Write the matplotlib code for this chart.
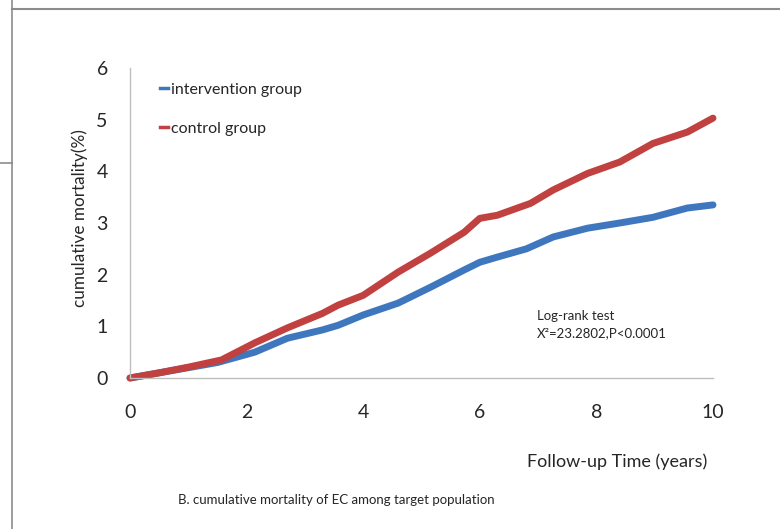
import matplotlib
matplotlib.use("Agg")
import matplotlib.pyplot as plt
from matplotlib.lines import Line2D

plt.rcParams['font.family'] = ['Lato', 'DejaVu Sans']

# values
years_intervention = [0, 0.5, 1.0, 1.5, 2.14, 2.7, 3.3, 3.57, 4.0, 4.6, 5.16, 5.73,
                      6.0, 6.3, 6.8, 7.26, 7.85, 8.4, 8.97, 9.56, 10.0]
mort_intervention = [0, 0.1, 0.2, 0.3, 0.5, 0.77, 0.93, 1.02, 1.22, 1.45, 1.76, 2.09,
                     2.24, 2.34, 2.5, 2.73, 2.9, 3.0, 3.11, 3.29, 3.35]

years_control = [0, 0.5, 1.0, 1.57, 2.14, 2.7, 3.3, 3.57, 4.0, 4.6, 5.16, 5.73,
                 6.0, 6.3, 6.87, 7.26, 7.85, 8.4, 8.97, 9.56, 10.0]
mort_control = [0, 0.1, 0.21, 0.35, 0.68, 0.97, 1.25, 1.41, 1.6, 2.05, 2.42, 2.82,
                3.09, 3.15, 3.38, 3.64, 3.96, 4.18, 4.54, 4.76, 5.03]

x_ticks = [0, 2, 4, 6, 8, 10]
y_ticks = [0, 1, 2, 3, 4, 5, 6]

blue = "#3f77bf"
red = "#c0413f"
text_col = "#262626"

fig = plt.figure(figsize=(7.8, 5.29), dpi=100)
ax = fig.add_axes([130 / 780, 1 - 378 / 529, (713 - 130) / 780, (378 - 68) / 529])

ax.plot(years_intervention, mort_intervention, color=blue, lw=5,
        solid_joinstyle="round", solid_capstyle="round", clip_on=False)
ax.plot(years_control, mort_control, color=red, lw=5,
        solid_joinstyle="round", solid_capstyle="round", clip_on=False)

ax.set_xlim(0, 10)
ax.set_ylim(0, 6)
ax.set_xticks(x_ticks)
ax.set_yticks(y_ticks)
ax.tick_params(length=0, labelsize=14, labelcolor=text_col)
ax.tick_params(axis="x", pad=19)
ax.tick_params(axis="y", pad=16)
for side in ["top", "right"]:
    ax.spines[side].set_visible(False)
for side in ["left", "bottom"]:
    ax.spines[side].set_color("#bfbfbf")
    ax.spines[side].set_linewidth(1.0)

# legend
handles = [Line2D([0], [0], color=blue, lw=2.5),
           Line2D([0], [0], color=red, lw=2.5)]
fig.legend(handles, ["intervention group", "control group"],
           loc="upper left", bbox_to_anchor=(146 / 780, 1 - 68 / 529),
           frameon=False, fontsize=11.5, handlelength=0.45, handletextpad=0.2,
           labelspacing=1.56, labelcolor=text_col)

# labels and annotations
fig.text(80 / 780, 1 - 218 / 529, "cumulative mortality(%)", rotation=90,
         ha="center", va="center", fontsize=12.3, color=text_col)
fig.text(707 / 780, 1 - 462 / 529, "Follow-up Time (years)",
         ha="right", va="center", fontsize=13, color=text_col)
fig.text(178 / 780, 1 - 500 / 529, "B. cumulative mortality of EC among target population",
         ha="left", va="center", fontsize=9.5, color=text_col)
fig.text(537 / 780, 1 - 316 / 529, "Log-rank test",
         ha="left", va="center", fontsize=9.5, color=text_col)
fig.text(537 / 780, 1 - 333 / 529, "X\u00b2=23.2802,P<0.0001",
         ha="left", va="center", fontsize=9.5, color=text_col)

# frame lines from the cropped screenshot
border = "#8c8c8c"
fig.add_artist(Line2D([12.5 / 780, 780 / 780], [1 - 9 / 529, 1 - 9 / 529],
                      transform=fig.transFigure, color=border, lw=1.5))
fig.add_artist(Line2D([12.5 / 780, 12.5 / 780], [1, 1 - 163 / 529],
                      transform=fig.transFigure, color=border, lw=1.2))
fig.add_artist(Line2D([0, 12.5 / 780], [1 - 163 / 529, 1 - 163 / 529],
                      transform=fig.transFigure, color=border, lw=1.2))
fig.add_artist(Line2D([11.5 / 780, 11.5 / 780], [1 - 163 / 529, 0],
                      transform=fig.transFigure, color=border, lw=1.2))

fig.savefig("out.png", dpi=100)
